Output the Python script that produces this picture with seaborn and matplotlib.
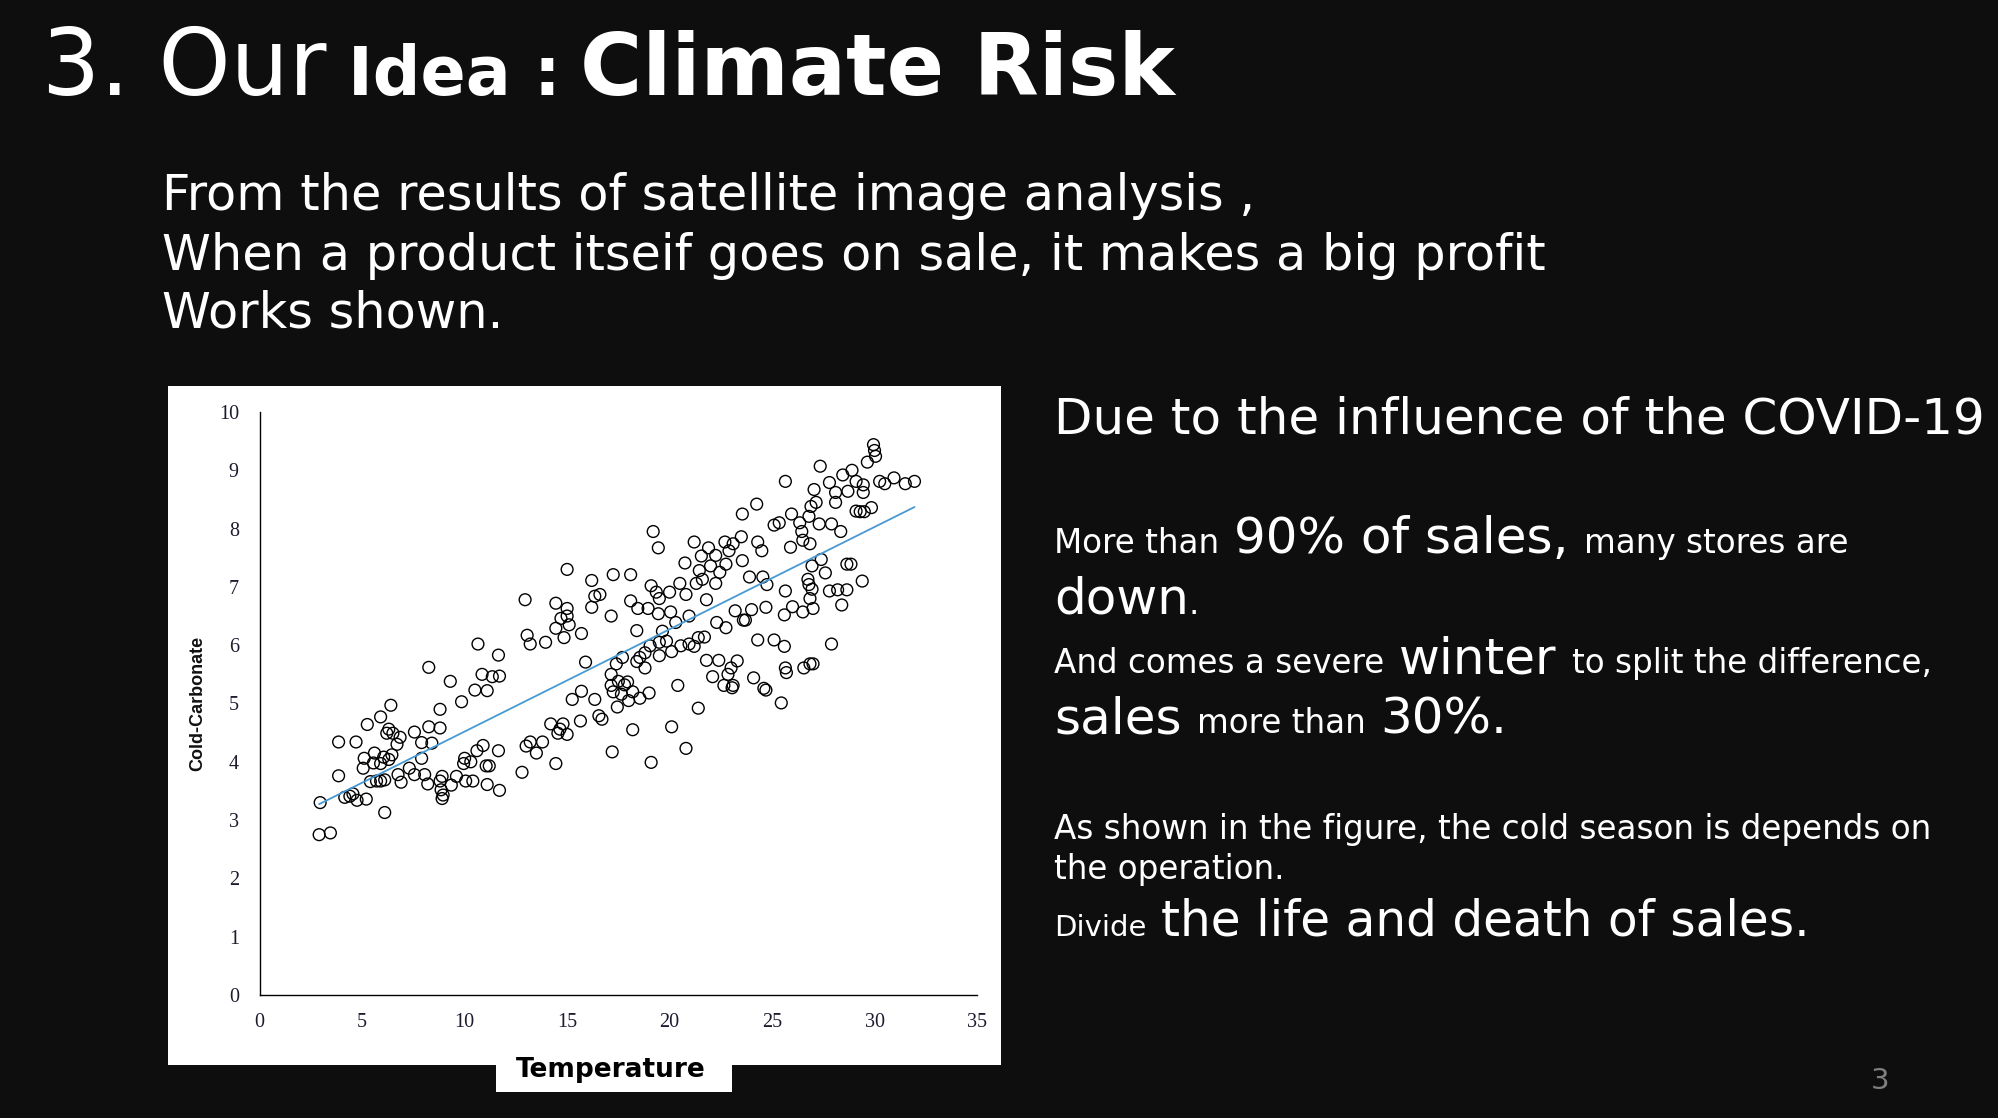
import numpy as np
import pandas as pd
import matplotlib
matplotlib.use('Agg')
import matplotlib.pyplot as plt
import seaborn as sns
from matplotlib.patches import Rectangle

# cores do slide
fundo = '#0e0e0e'
branco = '#ffffff'
cinza_num = '#808080'
azul_linha = '#4a98d3'

# dados (temperatura x cold-carbonate)
temperature = [
    2.9, 3.45, 2.95, 3.85, 3.85, 4.15, 4.4, 4.55, 4.75, 5.2, 4.7, 5.25, 5.1, 5.05, 5.4, 5.6,
    5.55, 5.7, 5.9, 5.9, 5.9, 6.05, 6.1, 6.1, 6.2, 6.3, 6.3, 6.45, 6.4, 6.5, 6.7, 6.85,
    6.75, 6.9, 7.3, 7.55, 7.55, 7.9, 7.9, 8.05, 8.2, 8.25, 8.25, 8.4, 8.8, 8.8, 8.8, 8.85,
    8.9, 8.9, 8.95, 9.3, 9.35, 9.6, 9.85, 9.95, 10.0, 10.05, 10.3, 10.4, 10.5, 10.65, 10.6, 10.85,
    10.9, 11.05, 11.1, 11.1, 11.2, 11.35, 11.65, 11.7, 11.65, 11.7, 12.8, 12.95, 13.0, 13.05, 13.2, 13.2,
    13.5, 13.8, 13.95, 14.2, 14.45, 14.45, 14.45, 14.55, 14.65, 14.7, 14.85, 15.0, 15.0, 15.0, 14.8, 15.0,
    15.1, 15.25, 15.7, 15.7, 15.65, 15.9,
    16.2, 16.2, 16.35, 16.6, 16.35, 16.55, 16.7, 17.15, 17.2, 17.25, 17.15, 17.15, 17.25, 17.4, 17.45, 17.5,
    17.65, 17.7, 17.8, 17.95, 18.0, 18.1, 18.1, 18.2, 18.2, 18.4, 18.4, 18.45, 18.55, 18.55, 18.8, 18.8,
    18.95, 19.0, 19.05, 19.1, 19.2, 19.45, 19.1, 19.35, 19.5, 19.45, 19.5, 19.5, 19.65, 19.85, 20.0, 20.05,
    20.1, 20.1, 20.3, 20.4, 20.5, 20.55, 20.75, 20.8, 20.8, 20.95, 20.95, 21.2, 21.2, 21.3, 21.4, 21.4,
    21.45, 21.55, 21.6, 21.7, 21.8, 21.8, 21.9, 22.0, 22.1, 22.25, 22.25, 22.3, 22.4, 22.45, 22.65, 22.7,
    22.75, 22.75, 22.85, 22.9, 23.0, 23.05, 23.1, 23.1, 23.2, 23.3, 23.5, 23.55, 23.55, 23.6, 23.7, 23.9,
    24.0, 24.1, 24.25, 24.3, 24.3, 24.5, 24.55, 24.6, 24.7, 24.7, 24.75, 25.1, 25.1, 25.35, 25.45, 25.6,
    25.6, 25.65, 25.65, 25.65, 25.7, 25.9, 25.95, 26.0, 26.35, 26.45, 26.5, 26.5, 26.55, 26.75, 26.8, 26.8,
    26.85, 26.85, 26.85, 26.9, 26.95, 27.0, 27.0, 27.05, 27.15, 26.95, 27.3, 27.4, 27.35, 27.6, 27.8, 27.8,
    27.9, 27.9, 28.1, 28.1, 28.2, 28.35, 28.4, 28.45, 28.65, 28.65, 28.85, 28.7, 28.9, 29.1, 29.1, 29.3,
    29.45, 29.45, 29.4, 29.5, 29.65, 29.85, 29.95, 30.0, 30.05, 30.25, 30.5, 30.95, 31.5, 31.95,
]
carbonate = [
    2.75, 2.78, 3.3, 3.76, 4.34, 3.39, 3.41, 3.45, 3.34, 3.36, 4.34, 4.64, 4.06, 3.89, 3.66, 4.15,
    3.98, 3.67, 3.67, 4.77, 3.97, 4.08, 3.69, 3.13, 4.49, 4.56, 4.04, 4.12, 4.97, 4.49, 4.3, 4.42,
    3.78, 3.65, 3.89, 3.78, 4.51, 4.33, 4.06, 3.78, 3.62, 4.6, 5.62, 4.32, 4.9, 4.58, 3.67, 3.52,
    3.75, 3.37, 3.43, 5.38, 3.6, 3.75, 5.03, 3.97, 4.06, 3.67, 4.0, 3.67, 5.23, 6.02, 4.19, 5.5,
    4.28, 3.93, 5.22, 3.61, 3.93, 5.46, 5.83, 5.47, 4.19, 3.51, 3.82, 6.78, 4.27, 6.17, 4.34, 6.02,
    4.15, 4.34, 6.05, 4.65, 3.97, 6.72, 6.29, 4.49, 4.56, 6.46, 6.13, 7.3, 6.63, 6.5, 4.65, 4.47,
    6.35, 5.07, 6.2, 5.21, 4.7, 5.71,
    7.11, 6.65, 6.84, 6.87, 5.07, 4.79, 4.73, 6.5, 4.17, 7.21, 5.5, 5.31, 5.2, 5.68, 4.94, 5.38,
    5.16, 5.79, 5.32, 5.37, 5.05, 7.21, 6.76, 4.55, 5.2, 6.25, 5.72, 6.63, 5.09, 5.79, 5.87, 5.61,
    6.63, 5.18, 5.99, 3.99, 7.95, 7.67, 7.02, 6.91, 6.8, 6.54, 6.05, 5.82, 6.24, 6.07, 6.91, 6.57,
    5.89, 4.6, 6.39, 5.31, 7.06, 5.99, 7.41, 6.87, 4.23, 6.5, 6.02, 7.77, 5.98, 7.06, 4.92, 6.13,
    7.28, 7.53, 7.13, 6.14, 6.78, 5.74, 7.67, 7.36, 5.46, 7.54, 7.06, 6.39, 5.74, 7.25, 5.31, 7.77,
    7.39, 6.3, 5.5, 7.62, 5.61, 5.27, 7.74, 5.31, 6.59, 5.73, 7.86, 7.45, 8.25, 6.43, 6.43, 7.17,
    6.61, 5.44, 8.42, 7.77, 6.09, 7.62, 7.17, 5.26, 5.23, 6.65, 7.04, 6.09, 8.06, 8.1, 5.01, 5.98,
    6.52, 8.81, 6.93, 5.61, 5.53, 7.68, 8.25, 6.66, 8.1, 7.95, 6.57, 7.8, 5.61, 7.13, 8.21, 7.04,
    7.74, 5.68, 6.8, 8.38, 6.96, 5.68, 6.63, 8.67, 8.45, 7.36, 8.08, 7.47, 9.07, 7.24, 6.93, 8.79,
    6.02, 8.08, 8.45, 8.62, 6.95, 7.95, 6.69, 8.92, 6.95, 7.39, 7.39, 8.64, 9.0, 8.81, 8.3, 8.29,
    8.62, 8.75, 7.1, 8.29, 9.14, 8.36, 9.44, 9.34, 9.24, 8.81, 8.77, 8.87, 8.77, 8.81,
]
x_ticks = list(range(0, 36, 5))
y_ticks = list(range(0, 11))

df = pd.DataFrame({'Temperature': temperature, 'Carbonate': carbonate})

sns.set_theme(style='white')
plt.rcParams['font.family'] = ['DejaVu Sans']

W, H = 1999, 1118
fig = plt.figure(figsize=(W / 100, H / 100), dpi=100, facecolor=fundo)
renderer = fig.canvas.get_renderer()


def fx(px):
    return px / W


def fy(py):
    return 1 - py / H


# painel branco do grafico + caixa do rotulo x
fig.patches.append(Rectangle((fx(168), fy(1065)), fx(1001) - fx(168), fy(386) - fy(1065),
                             transform=fig.transFigure, facecolor='white', edgecolor='none', zorder=-1))
fig.patches.append(Rectangle((fx(496), fy(1092)), fx(732) - fx(496), fy(1040) - fy(1092),
                             transform=fig.transFigure, facecolor='white', edgecolor='none', zorder=-1))

ax = fig.add_axes([fx(259.7), fy(995), fx(977) - fx(259.7), fy(412) - fy(995)])
ax.set_facecolor('white')

sns.scatterplot(data=df, x='Temperature', y='Carbonate', ax=ax, s=72, marker='o',
                facecolor='none', edgecolor='black', linewidth=1.0, legend=False)
sns.regplot(data=df, x='Temperature', y='Carbonate', ax=ax, scatter=False, ci=None,
            truncate=True, color=azul_linha, line_kws=dict(linewidth=1.3))

ax.set_xlim(0, 35)
ax.set_ylim(0, 10)
ax.set_xticks(x_ticks)
ax.set_yticks(y_ticks)
ax.set_xticklabels([str(v) for v in x_ticks])
ax.set_yticklabels([str(v) for v in y_ticks])
for s in ['top', 'right']:
    ax.spines[s].set_visible(False)
for s in ['left', 'bottom']:
    ax.spines[s].set_color('black')
    ax.spines[s].set_linewidth(1.0)
ax.tick_params(axis='x', direction='out', length=4, width=1.0, color='black', pad=9, labelsize=14.5, labelcolor='#1c1c30')
ax.tick_params(axis='y', direction='out', length=4, width=1.0, color='black', pad=11, labelsize=14.5, labelcolor='#1c1c30')
for lab in ax.get_xticklabels() + ax.get_yticklabels():
    lab.set_fontfamily('Liberation Serif')
ax.grid(False)

ax.set_xlabel('')
ax.set_ylabel('Cold-Carbonate', fontsize=13, fontweight='bold', color='#111111', family='Liberation Sans')
ax.yaxis.set_label_coords(-0.075, 0.5)

fig.text(fx(611), fy(1077), 'Temperature', fontsize=19, fontweight='bold', color='black',
         ha='center', va='baseline')

# titulo
fig.text(fx(42), fy(95), '3. Our', fontsize=66, color=branco, va='baseline')
fig.text(fx(348), fy(95), 'Idea :', fontsize=48, fontweight='bold', color=branco, va='baseline')
fig.text(fx(580), fy(95), 'Climate Risk', fontsize=61, fontweight='bold', color=branco, va='baseline')

# paragrafo da esquerda
paragrafo = ['From the results of satellite image analysis ,',
             'When a product itseif goes on sale, it makes a big profit',
             'Works shown.']
for linha, yb in zip(paragrafo, [210, 270, 328]):
    fig.text(fx(162), fy(yb), linha, fontsize=35.6, color=branco, va='baseline')


def escreve_linha(x0, yb, partes):
    # partes: (texto, tamanho, com espaco antes)
    x = x0
    tam_ant = None
    for texto, tam, espaco in partes:
        if tam_ant is not None and espaco:
            x += 0.3 * max(tam, tam_ant) * 100 / 72
        t = fig.text(fx(x), fy(yb), texto, fontsize=tam, color=branco, va='baseline')
        x += t.get_window_extent(renderer).width
        tam_ant = tam


grande, pequeno = 36, 23.5
escreve_linha(1054, 433, [('Due to the influence of the COVID-19', grande, False)])
escreve_linha(1054, 553, [('More than', pequeno, False), ('90% of sales,', grande, True),
                          ('many stores are', pequeno, True)])
escreve_linha(1054, 614, [('down', grande, False), ('.', pequeno, False)])
escreve_linha(1054, 673, [('And comes a severe', pequeno, False), ('winter', grande, True),
                          ('to split the difference,', pequeno, True)])
escreve_linha(1054, 733, [('sales', grande, False), ('more than', pequeno, True), ('30%.', grande, True)])
escreve_linha(1054, 839, [('As shown in the figure, the cold season is depends on', 23.5, False)])
escreve_linha(1054, 879, [('the operation.', 23.5, False)])
escreve_linha(1054, 936, [('Divide', 21, False), ('the life and death of sales.', 35, True)])

# numero da pagina
fig.text(fx(1880), fy(1089), '3', fontsize=21, color=cinza_num, ha='center', va='baseline')

fig.savefig('out.png', dpi=100, facecolor=fundo)
